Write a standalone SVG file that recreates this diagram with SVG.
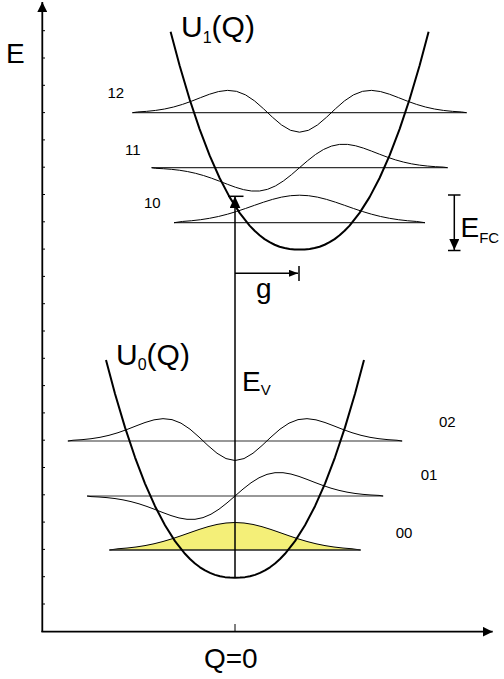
<svg xmlns="http://www.w3.org/2000/svg" width="504" height="679" viewBox="0 0 504 679">
<style>
text{font-family:"Liberation Sans",Arial,sans-serif;fill:#000}
.big{font-size:28px}
.pl{font-size:30px}
.num{font-size:15px}
.pot{fill:none;stroke:#000;stroke-width:2;stroke-linejoin:round}
.lvl{fill:none;stroke:#333;stroke-width:1.2}
.wf{fill:none;stroke:#000;stroke-width:1;stroke-linejoin:round}
.ax{fill:none;stroke:#000;stroke-width:1.8}
.tick{stroke:#000;stroke-width:1}
.arr{fill:none;stroke:#000;stroke-width:1.5}
</style>
<defs>
<marker id="axV" markerUnits="userSpaceOnUse" viewBox="0 0 10 10" markerWidth="10" markerHeight="10" refX="10" refY="5" orient="auto"><path d="M0,0 L10,5 L0,10 Z" fill="#000"/></marker>
<marker id="evA" markerUnits="userSpaceOnUse" viewBox="0 0 12 11" markerWidth="12" markerHeight="11" refX="12" refY="5.5" orient="auto"><path d="M0,0 L12,5.5 L0,11 Z" fill="#000"/></marker>
<marker id="gA" markerUnits="userSpaceOnUse" viewBox="0 0 9 7" markerWidth="9" markerHeight="7" refX="9" refY="3.5" orient="auto"><path d="M0,0 L9,3.5 L0,7 Z" fill="#000"/></marker>
<marker id="fcA" markerUnits="userSpaceOnUse" viewBox="0 0 11 10" markerWidth="11" markerHeight="10" refX="11" refY="5" orient="auto"><path d="M0,0 L11,5 L0,10 Z" fill="#000"/></marker>
</defs>

<g id="ground-density">
<path d="M109.5,550 L118,548.76 127,548.04 136,547.01 145,545.6 154,543.77 163,541.49 172,538.8 181,535.79 190,532.61 199,529.49 208,526.68 217,524.44 226,523 235,522.5 244,523 253,524.44 262,526.68 271,529.49 280,532.61 289,535.79 298,538.8 307,541.49 316,543.77 325,545.6 334,547.01 343,548.04 352,548.76 360.5,550 Z" fill="#f4ef78" stroke="#000" stroke-width="1"/>
</g>

<g id="axes">
<line class="ax" x1="42.3" y1="632" x2="42.3" y2="2" marker-end="url(#axV)"/>
<line class="ax" x1="41.4" y1="631.7" x2="492.7" y2="631.7" marker-end="url(#axV)"/>
<path class="tick" d="M42,30.7h3M42,58h3M42,85.3h3M42,112.6h3M42,139.9h3M42,167.2h3M42,194.5h3M42,221.8h3M42,249.1h3M42,276.4h3M42,303.7h3M42,331h3M42,358.3h3M42,385.6h3M42,412.9h3M42,440.2h3M42,467.5h3M42,494.8h3M42,522.1h3M42,549.4h3M42,576.7h3M42,604h3"/>
<line class="tick" x1="235" y1="624" x2="235" y2="631.7"/>
<text class="big" x="6" y="63">E</text>
<text class="big" x="230.8" y="668" text-anchor="middle">Q=0</text>
</g>

<g id="levels-upper">
<line class="lvl" x1="132.3" y1="112.7" x2="466.7" y2="112.7"/>
<line class="lvl" x1="151.7" y1="167.7" x2="447.7" y2="167.7"/>
<line class="lvl" x1="174" y1="222.7" x2="425" y2="222.7"/>
</g>
<g id="levels-lower">
<line class="lvl" x1="67.7" y1="441" x2="402.3" y2="441"/>
<line class="lvl" x1="87.3" y1="496" x2="383.3" y2="496"/>
<line class="lvl" x1="109.3" y1="550" x2="360.7" y2="550"/>
</g>

<g id="wave-12">
<polyline class="wf" points="132.5,112.7 137.5,111.95 146.5,111.37 155.5,110.43 164.5,109.02 173.5,107.02 182.5,104.39 191.5,101.19 200.5,97.65 209.5,94.23 218.5,91.55 227.5,90.36 236.5,91.33 245.5,94.85 254.5,100.87 263.5,108.74 272.5,117.26 281.5,124.94 290.5,130.29 299.5,132.2 308.5,130.29 317.5,124.94 326.5,117.26 335.5,108.74 344.5,100.87 353.5,94.85 362.5,91.33 371.5,90.36 380.5,91.55 389.5,94.23 398.5,97.65 407.5,101.19 416.5,104.39 425.5,107.02 434.5,109.02 443.5,110.43 452.5,111.37 461.5,111.95 466.5,112.7"/>
<text class="num" x="107.5" y="97.5">12</text>
</g>
<g id="wave-11">
<polyline class="wf" points="151.5,167.7 155.5,168.3 163.5,168.71 171.5,169.34 179.5,170.26 187.5,171.56 195.5,173.31 203.5,175.52 211.5,178.19 219.5,181.19 227.5,184.32 235.5,187.27 243.5,189.64 251.5,191.01 259.5,191 267.5,189.33 275.5,185.91 283.5,180.89 291.5,174.63 299.5,167.7 307.5,160.77 315.5,154.51 323.5,149.49 331.5,146.07 339.5,144.4 347.5,144.39 355.5,145.76 363.5,148.13 371.5,151.08 379.5,154.21 387.5,157.21 395.5,159.88 403.5,162.09 411.5,163.84 419.5,165.14 427.5,166.06 435.5,166.69 443.5,167.1 447.5,167.7"/>
<text class="num" x="125" y="155">11</text>
</g>
<g id="wave-10">
<polyline class="wf" points="174,222.7 182.5,221.46 191.5,220.74 200.5,219.71 209.5,218.3 218.5,216.47 227.5,214.19 236.5,211.5 245.5,208.49 254.5,205.31 263.5,202.19 272.5,199.38 281.5,197.14 290.5,195.7 299.5,195.2 308.5,195.7 317.5,197.14 326.5,199.38 335.5,202.19 344.5,205.31 353.5,208.49 362.5,211.5 371.5,214.19 380.5,216.47 389.5,218.3 398.5,219.71 407.5,220.74 416.5,221.46 425,222.7"/>
<text class="num" x="144" y="208.3">10</text>
</g>
<g id="wave-02">
<polyline class="wf" points="68,441 73,440.25 82,439.67 91,438.73 100,437.32 109,435.32 118,432.69 127,429.49 136,425.95 145,422.53 154,419.85 163,418.66 172,419.63 181,423.15 190,429.17 199,437.04 208,445.56 217,453.24 226,458.59 235,460.5 244,458.59 253,453.24 262,445.56 271,437.04 280,429.17 289,423.15 298,419.63 307,418.66 316,419.85 325,422.53 334,425.95 343,429.49 352,432.69 361,435.32 370,437.32 379,438.73 388,439.67 397,440.25 402,441"/>
<text class="num" x="439" y="426.7">02</text>
</g>
<g id="wave-01">
<polyline class="wf" points="87,496 91,496.6 99,497.01 107,497.64 115,498.56 123,499.86 131,501.61 139,503.82 147,506.49 155,509.49 163,512.62 171,515.57 179,517.94 187,519.31 195,519.3 203,517.63 211,514.21 219,509.19 227,502.93 235,496 243,489.07 251,482.81 259,477.79 267,474.37 275,472.7 283,472.69 291,474.06 299,476.43 307,479.38 315,482.51 323,485.51 331,488.18 339,490.39 347,492.14 355,493.44 363,494.36 371,494.99 379,495.4 383,496"/>
<text class="num" x="420.7" y="480">01</text>
</g>
<g id="wave-00">
<text class="num" x="395.7" y="538.3">00</text>
</g>

<g id="U1">
<polyline class="pot" points="170.6,31.7 179.6,65.5 189.6,99.2 199.6,129.1 209.6,155.4 219.6,178 229.6,197.1 239.6,212.9 249.6,225.6 254.6,230.77 259.6,235.3 264.6,239.08 269.6,242.2 274.6,244.74 279.6,246.7 284.6,248.05 289.6,248.9 294.6,249.4 299.6,249.5 304.6,249.4 309.6,248.9 314.6,248.05 319.6,246.7 324.6,244.74 329.6,242.2 334.6,239.08 339.6,235.3 344.6,230.77 349.6,225.6 359.6,212.9 369.6,197.1 379.6,178 389.6,155.4 399.6,129.1 409.6,99.2 419.6,65.5 428.6,31.7"/>
<text class="pl" x="181" y="37">U<tspan font-size="16" dy="6">1</tspan><tspan dy="-6">(Q)</tspan></text>
</g>
<g id="U0">
<polyline class="pot" points="106,359.9 115,393.7 125,427.4 135,457.3 145,483.6 155,506.2 165,525.3 175,541.1 185,553.76 190,558.97 195,563.46 200,567.28 205,570.42 210,572.94 215,574.87 220,576.25 225,577.14 230,577.59 235,577.7 240,577.59 245,577.14 250,576.25 255,574.87 260,572.94 265,570.42 270,567.28 275,563.46 280,558.97 285,553.76 295,541.1 305,525.3 315,506.2 325,483.6 335,457.3 345,427.4 355,393.7 364,359.9"/>
<text class="pl" x="116" y="365">U<tspan font-size="16" dy="5">0</tspan><tspan dy="-5">(Q)</tspan></text>
</g>

<g id="connectors">
<line class="arr" x1="235" y1="577.7" x2="235" y2="196.3" marker-end="url(#evA)"/>
<line class="arr" x1="228" y1="196.3" x2="243.5" y2="196.3"/>
<line class="arr" x1="235" y1="273.3" x2="298" y2="273.3" marker-end="url(#gA)"/>
<line class="arr" x1="299" y1="266" x2="299" y2="281"/>
<line class="arr" x1="454.3" y1="195" x2="454.3" y2="250" marker-end="url(#fcA)"/>
<line class="arr" x1="448" y1="195" x2="460.5" y2="195"/>
<line class="arr" x1="448" y1="250.5" x2="460.5" y2="250.5"/>
<text class="big" x="242" y="391">E<tspan font-size="15" dy="4">V</tspan></text>
<text class="big" x="256" y="298">g</text>
<text class="big" x="460.5" y="236.7">E<tspan font-size="15" dy="6">FC</tspan></text>
</g>
</svg>
